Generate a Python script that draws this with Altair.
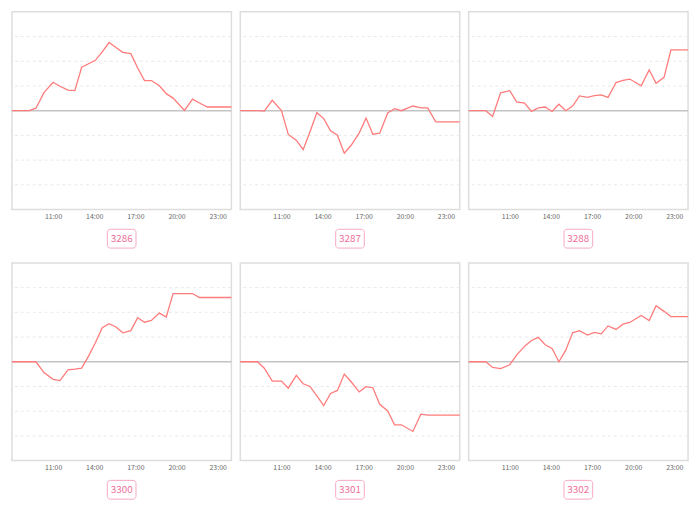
import altair as alt
import pandas as pd

# shared sampling times (HH:MM)
times = ["08:00", "09:15", "09:45", "10:20", "11:00", "11:30", "12:05", "12:35",
         "13:05", "13:35", "14:05", "14:35", "15:05", "15:35", "16:05", "16:40",
         "17:10", "17:40", "18:10", "18:45", "19:15", "19:45", "20:35", "21:10",
         "21:40", "22:15", "22:45", "24:00"]

codes = ["3286", "3287", "3288", "3300", "3301", "3302"]

s3286 = [0, 0, 0.10, 0.73, 1.15, 0.99, 0.83, 0.81, 1.76, 1.90, 2.04, 2.38, 2.76, 2.56,
         2.36, 2.31, 1.73, 1.22, 1.22, 1.01, 0.69, 0.51, 0.01, 0.47, 0.31, 0.15, 0.15, 0.15]
s3287 = [0, 0, -0.02, 0.42, 0.01, -0.96, -1.19, -1.58, -0.85, -0.08, -0.32, -0.81, -0.99, -1.72,
         -1.40, -0.91, -0.30, -0.95, -0.91, -0.09, 0.08, 0.0, 0.19, 0.11, 0.11, -0.45, -0.45, -0.45]
s3288 = [0, 0, -0.23, 0.72, 0.81, 0.36, 0.31, -0.03, 0.11, 0.15, -0.03, 0.26, 0.0, 0.19,
         0.60, 0.54, 0.61, 0.64, 0.54, 1.14, 1.23, 1.28, 1.01, 1.65, 1.11, 1.35, 2.46, 2.46]
s3300 = [0, 0, 0, -0.44, -0.71, -0.76, -0.33, -0.30, -0.26, 0.23, 0.77, 1.38, 1.54, 1.41,
         1.17, 1.26, 1.78, 1.60, 1.67, 1.97, 1.81, 2.76, 2.76, 2.76, 2.60, 2.60, 2.60, 2.60]
s3301 = [0, 0, -0.26, -0.78, -0.78, -1.07, -0.55, -0.89, -1.00, -1.38, -1.77, -1.28, -1.16, -0.50,
         -0.81, -1.22, -1.01, -1.05, -1.72, -1.99, -2.55, -2.55, -2.82, -2.12, -2.16, -2.16, -2.16, -2.16]
s3302 = [0, 0, -0.23, -0.28, -0.12, 0.27, 0.63, 0.86, 0.99, 0.69, 0.54, 0.0, 0.47, 1.17,
         1.26, 1.08, 1.19, 1.13, 1.45, 1.31, 1.52, 1.59, 1.87, 1.67, 2.27, 2.04, 1.83, 1.83]

series = [s3286, s3287, s3288, s3300, s3301, s3302]
tick_hours = [11, 14, 17, 20, 23]
grid_values = [-3, -2, -1, 1, 2, 3]

W, H = 222, 200
FONT = "Noto Sans CJK SC"
base = pd.Timestamp("2024-01-01")


def ts(t):
    return (base + pd.to_timedelta(t + ":00")).strftime("%Y-%m-%dT%H:%M:%S")


def dt(h):
    if h >= 24:
        return alt.DateTime(year=2024, month=1, date=2, hours=h - 24)
    return alt.DateTime(year=2024, month=1, date=1, hours=h)


def panel(code, vals):
    tbl = pd.DataFrame({"time": [ts(t) for t in times], "value": vals})
    ref = pd.DataFrame({"lvl": grid_values + [0],
                        "kind": ["grid"] * len(grid_values) + ["zero"]})
    x = alt.X("time:T",
              scale=alt.Scale(domain=[dt(8), dt(24)]),
              axis=alt.Axis(values=[dt(h) for h in tick_hours], format="%H:%M",
                            title=None, labelFontSize=7, labelColor="#666666",
                            labelFont=FONT, ticks=False, domain=False, grid=False,
                            labelPadding=3, labelFlush=False))
    yscale = alt.Scale(domain=[-4, 4], nice=False, zero=False)
    # invisible base layer carrying the shared x axis
    axis_layer = alt.Chart(tbl).mark_line(strokeOpacity=0).encode(
        x=x, y=alt.Y("value:Q", scale=yscale, axis=None))
    grid = alt.Chart(ref).transform_filter(alt.datum.kind == "grid").mark_rule(
        color="#e9e9e9", strokeWidth=1, strokeDash=[3, 3]).encode(
        y=alt.Y("lvl:Q", scale=yscale, axis=None))
    zero = alt.Chart(ref).transform_filter(alt.datum.kind == "zero").mark_rule(
        color="#c4c4c4", strokeWidth=1.5).encode(
        y=alt.Y("lvl:Q", scale=yscale, axis=None))
    line = alt.Chart(tbl).mark_line(color="#ff7b7b", strokeWidth=1.3).encode(
        x=x, y=alt.Y("value:Q", scale=yscale, axis=None))
    lab = pd.DataFrame({"code": [code]})
    box = alt.Chart(lab).mark_rect(
        fill="white", stroke="#f6a9c2", strokeWidth=1, cornerRadius=3).encode(
        x=alt.value(W / 2 - 14.5), x2=alt.value(W / 2 + 14.5),
        y=alt.value(H + 20), y2=alt.value(H + 39))
    txt = alt.Chart(lab).mark_text(
        color="#ee6f98", fontSize=10, font=FONT, baseline="middle", align="center").encode(
        x=alt.value(W / 2), y=alt.value(H + 29.5), text="code:N")
    return alt.layer(axis_layer, grid, zero, line, box, txt).properties(width=W, height=H)


panels = [panel(c, s) for c, s in zip(codes, series)]
row1 = alt.hconcat(*panels[:3], spacing=9, bounds="flush")
row2 = alt.hconcat(*panels[3:], spacing=9, bounds="flush")
chart = alt.vconcat(row1, row2, spacing=12).properties(
    padding=0, background="white"
).configure_view(stroke="#dddddd", strokeWidth=1.5)

chart.save("out.html", embed_options={"renderer": "svg", "actions": False})
